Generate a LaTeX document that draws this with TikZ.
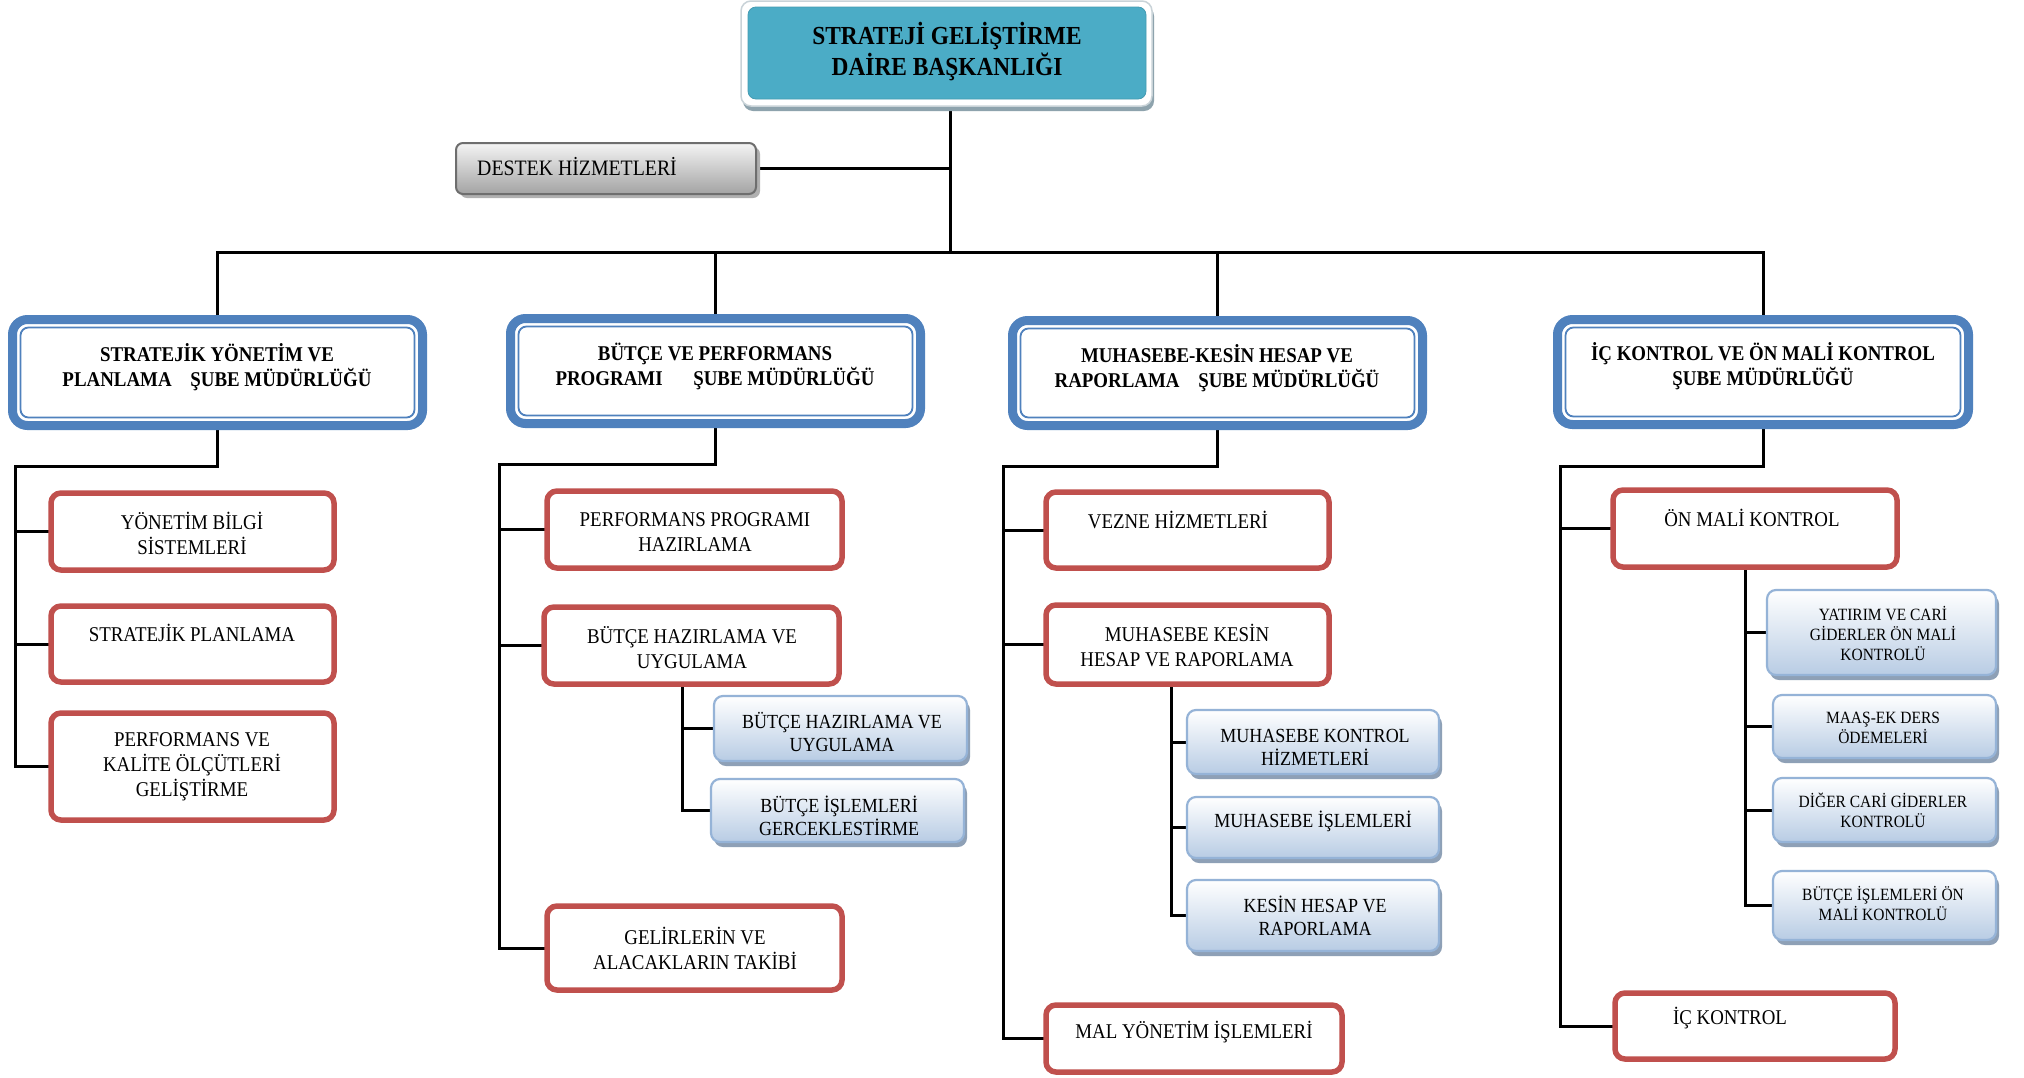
\documentclass[tikz,border=0pt]{standalone}
\usepackage{fontspec}
\setmainfont[FakeStretch=0.9]{Liberation Serif}
\usetikzlibrary{shadows}
\definecolor{l2blue}{HTML}{4F81BD}
\definecolor{l3red}{HTML}{C0504D}
\definecolor{subborder}{HTML}{95B3D7}
\definecolor{subblue}{HTML}{B8CCE4}
\definecolor{subshadow}{HTML}{8EA0B6}
\definecolor{topteal}{HTML}{4BACC6}
\definecolor{topframec}{HTML}{C9D3D8}
\definecolor{topshadow}{HTML}{8EA3AD}
\definecolor{desborder}{HTML}{6E6E6E}
\definecolor{destop}{HTML}{F4F4F4}
\definecolor{desbot}{HTML}{A3A3A3}
\definecolor{desshadow}{HTML}{B0B0B0}
\pgfdeclarelayer{bg}
\pgfdeclarelayer{lines}
\pgfsetlayers{bg,lines,main}
\newcommand\mkbox[6]{\node[#2, minimum width={(#5)-(#3)}, minimum height={(#6)-(#4)}] (#1) at ({((#3)+(#5))/2},{((#4)+(#6))/2}) {};}
\tikzset{
  conn/.style={line width=3pt, black},
  basebox/.style={rectangle, inner sep=0pt, outer sep=0pt},
  topframe/.style={basebox, fill=white, draw=topframec, line width=1.5pt, rounded corners=10pt,
    general shadow={fill=topshadow, shadow xshift=2pt, shadow yshift=-5pt}},
  topbox/.style={basebox, fill=topteal, draw=topteal!90!black, line width=0.8pt, rounded corners=8pt},
  destekbox/.style={basebox, draw=desborder, line width=2pt, rounded corners=7pt, top color=destop, bottom color=desbot,
    general shadow={fill=desshadow, shadow xshift=4pt, shadow yshift=-4pt}},
  l2box/.style={basebox, draw=l2blue, line width=9pt, rounded corners=15pt, fill=white},
  l2in/.style={draw=l2blue, line width=1.8pt, rounded corners=8pt},
  l3box/.style={basebox, draw=l3red, line width=5.5pt, rounded corners=10pt, fill=white},
  subbox/.style={basebox, draw=subborder, line width=2.2pt, rounded corners=9pt, top color=white, bottom color=subblue,
    general shadow={fill=subshadow, shadow xshift=3pt, shadow yshift=-5pt}},
  ttop/.style={font=\fontsize{26}{31}\selectfont\bfseries, align=center, inner sep=0pt},
  tdes/.style={font=\fontsize{22}{24}\selectfont, inner sep=0pt},
  tl2/.style={font=\fontsize{21}{25}\selectfont\bfseries, align=center, inner sep=0pt},
  tl3/.style={font=\fontsize{21}{25}\selectfont, align=center, inner sep=0pt},
  tsub/.style={font=\fontsize{20}{23}\selectfont, align=center, inner sep=0pt},
  tsubs/.style={font=\fontsize{17.2}{20}\selectfont, align=center, inner sep=0pt},
}
\begin{document}
\begin{tikzpicture}[x=1pt,y=-1pt]
\begin{pgfonlayer}{bg}
\fill[white] (0,0) rectangle (2024,1077);
\end{pgfonlayer}
\useasboundingbox (0,0) rectangle (2024,1077);

% top
\mkbox{topframe}{topframe}{741}{1}{1152}{106}
\mkbox{top}{topbox}{748}{7}{1146}{99}
\node[ttop] (t0) at (947,52) {STRATEJİ GELİŞTİRME\\DAİRE BAŞKANLIĞI};

% destek
\mkbox{destek}{destekbox}{456}{143}{756}{194}
\node[tdes, anchor=west] (td) at (477,167) {DESTEK HİZMETLERİ};

% level 2
\mkbox{sa}{l2box}{12.5}{319.5}{422.5}{425.5}
\mkbox{sb}{l2box}{510.5}{318.5}{920.5}{423.5}
\mkbox{sc}{l2box}{1012.5}{320.5}{1422.5}{425.5}
\mkbox{sd}{l2box}{1557.5}{319.5}{1968.5}{424.5}
\foreach \n in {sa,sb,sc,sd}{
  \draw[l2in] ([shift={(8pt,-8pt)}]\n.north west) rectangle ([shift={(-8pt,8pt)}]\n.south east);
}
\node[tl2] (ta) at (217,367) {STRATEJİK YÖNETİM VE\\PLANLAMA\hspace{14pt} ŞUBE MÜDÜRLÜĞÜ};
\node[tl2] (tb) at (715,366) {BÜTÇE VE PERFORMANS\\PROGRAMI\hspace{26pt} ŞUBE MÜDÜRLÜĞÜ};
\node[tl2] (tc) at (1217,368) {MUHASEBE-KESİN HESAP VE\\RAPORLAMA\hspace{14pt} ŞUBE MÜDÜRLÜĞÜ};
\node[tl2] (tdd) at (1763,366) {İÇ KONTROL VE ÖN MALİ KONTROL\\ŞUBE MÜDÜRLÜĞÜ};

% level 3
\mkbox{b11}{l3box}{51}{493}{334}{570}
\mkbox{b12}{l3box}{51}{606}{334}{682}
\mkbox{b13}{l3box}{51}{713}{334}{820}
\mkbox{b21}{l3box}{547}{491}{842}{568}
\mkbox{b22}{l3box}{544}{607}{839}{684}
\mkbox{b23}{l3box}{547}{906}{842}{990}
\mkbox{b31}{l3box}{1046}{492}{1329}{568}
\mkbox{b32}{l3box}{1046}{605}{1329}{684}
\mkbox{b33}{l3box}{1046}{1005}{1342}{1072}
\mkbox{b41}{l3box}{1613}{490}{1897}{567}
\mkbox{b42}{l3box}{1615}{993}{1895}{1059}

\node[tl3] (x11) at (192,533) {YÖNETİM BİLGİ\\SİSTEMLERİ};
\node[tl3] (x12) at (192,633) {STRATEJİK PLANLAMA};
\node[tl3] (x13) at (192,767) {PERFORMANS VE\\KALİTE ÖLÇÜTLERİ\\GELİŞTİRME};
\node[tl3] (x21) at (695,532) {PERFORMANS PROGRAMI\\HAZIRLAMA};
\node[tl3] (x22) at (692,648) {BÜTÇE HAZIRLAMA VE\\UYGULAMA};
\node[tl3] (x23) at (695,948) {GELİRLERİN VE\\ALACAKLARIN TAKİBİ};
\node[tl3] (x31) at (1178,520) {VEZNE HİZMETLERİ};
\node[tl3] (x32) at (1187,645) {MUHASEBE KESİN\\HESAP VE RAPORLAMA};
\node[tl3] (x33) at (1194,1032) {MAL YÖNETİM İŞLEMLERİ};
\node[tl3] (x41) at (1752,518) {ÖN MALİ KONTROL};
\node[tl3] (x42) at (1730,1018) {İÇ KONTROL};

% sub boxes
\mkbox{c21}{subbox}{714}{696}{967}{761}
\mkbox{c22}{subbox}{711}{779}{964}{842}
\mkbox{c31}{subbox}{1187}{710}{1439}{774}
\mkbox{c32}{subbox}{1187}{797}{1439}{858}
\mkbox{c33}{subbox}{1187}{880}{1439}{951}
\mkbox{c41}{subbox}{1767}{590}{1996}{675}
\mkbox{c42}{subbox}{1773}{695}{1996}{758}
\mkbox{c43}{subbox}{1773}{778}{1996}{842}
\mkbox{c44}{subbox}{1773}{871}{1996}{940}

\node[tsub] (y21) at (842,732) {BÜTÇE HAZIRLAMA VE\\UYGULAMA};
\node[tsub] (y22) at (839,816) {BÜTÇE İŞLEMLERİ\\GERCEKLESTİRME};
\node[tsub] (y31) at (1315,747) {MUHASEBE KONTROL\\HİZMETLERİ};
\node[tsub] (y32) at (1313,821) {MUHASEBE İŞLEMLERİ};
\node[tsub] (y33) at (1315,916) {KESİN HESAP VE\\RAPORLAMA};
\node[tsubs] (y41) at (1883,633) {YATIRIM VE CARİ\\GİDERLER ÖN MALİ\\KONTROLÜ};
\node[tsubs] (y42) at (1883,728) {MAAŞ-EK DERS\\ÖDEMELERİ};
\node[tsubs] (y43) at (1883,810) {DİĞER CARİ GİDERLER\\KONTROLÜ};
\node[tsubs] (y44) at (1883,903) {BÜTÇE İŞLEMLERİ ÖN\\MALİ KONTROLÜ};

% connectors
\begin{pgfonlayer}{lines}
\coordinate (bus) at (950,252);
\draw[conn] (top.south -| bus) -- (bus);
\draw[conn] (destek.east) -- (destek.east -| bus);
\draw[conn] (sa.north) |- (bus) -| (sd.north);
\draw[conn] (bus -| sb.north) -- (sb.north);
\draw[conn] (bus -| sc.north) -- (sc.north);

\coordinate (v1) at (15,466);
\draw[conn] (sa.south) |- (v1) |- (b13.west);
\draw[conn] (v1 |- b11.west) -- (b11.west);
\draw[conn] (v1 |- b12.west) -- (b12.west);

\coordinate (v2) at (499,464);
\draw[conn] (sb.south) |- (v2) |- (b23.west);
\draw[conn] (v2 |- b21.west) -- (b21.west);
\draw[conn] (v2 |- b22.west) -- (b22.west);
\coordinate (w2) at (682,700);
\draw[conn] (b22.south -| w2) |- (c22.west);
\draw[conn] (w2 |- c21.west) -- (c21.west);

\coordinate (v3) at (1003,466);
\draw[conn] (sc.south) |- (v3) |- (b33.west);
\draw[conn] (v3 |- b31.west) -- (b31.west);
\draw[conn] (v3 |- b32.west) -- (b32.west);
\coordinate (w3) at (1171,700);
\draw[conn] (b32.south -| w3) |- (c33.west);
\draw[conn] (w3 |- c31.west) -- (c31.west);
\draw[conn] (w3 |- c32.west) -- (c32.west);

\coordinate (v4) at (1560,466);
\draw[conn] (sd.south) |- (v4) |- (b42.west);
\draw[conn] (v4 |- b41.west) -- (b41.west);
\coordinate (w4) at (1745,600);
\draw[conn] (b41.south -| w4) |- (c44.west);
\draw[conn] (w4 |- c41.west) -- (c41.west);
\draw[conn] (w4 |- c42.west) -- (c42.west);
\draw[conn] (w4 |- c43.west) -- (c43.west);
\end{pgfonlayer}
\end{tikzpicture}
\end{document}
